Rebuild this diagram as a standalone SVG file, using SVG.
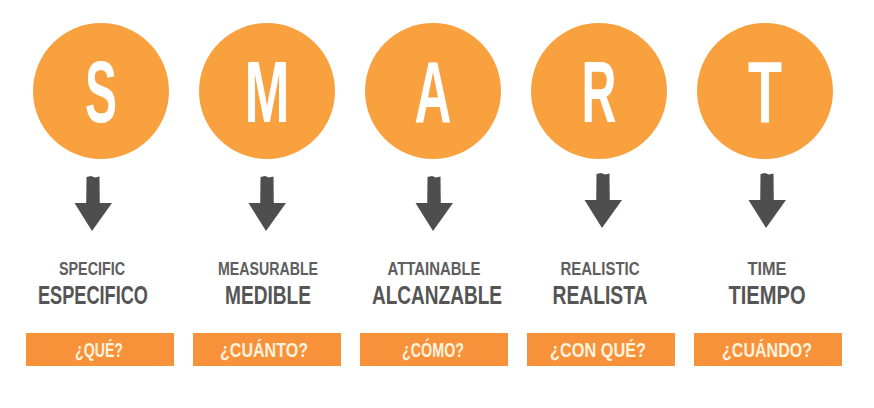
<svg xmlns="http://www.w3.org/2000/svg" width="874" height="408" viewBox="0 0 874 408">
  <style>
    .circ { fill: #F9A13F; }
    .big { font-family: "Liberation Sans", Arial, sans-serif; font-weight: bold; font-size: 87px; fill: #FFFFFF; text-anchor: middle; }
    .en { font-family: "Liberation Sans", Arial, sans-serif; font-weight: bold; font-size: 18px; fill: #5E5E5E; text-anchor: middle; }
    .es { font-family: "Liberation Sans", Arial, sans-serif; font-weight: bold; font-size: 26px; fill: #555555; text-anchor: middle; }
    .box { fill: #F7913A; }
    .q { font-family: "Liberation Sans", Arial, sans-serif; font-weight: bold; font-size: 19.5px; fill: #FFF3DF; text-anchor: middle; }
    .arr { fill: #4E4E4E; }
  </style>
  <defs>
    <g id="arrow">
      <path class="arr" d="M -6.5 0 L -2 -1 L 2 0.5 L 6.5 -0.5 L 6.8 28 L -6.8 28 Z"/>
      <path class="arr" d="M -18.5 26 L 19 26 L -1 54 Z"/>
    </g>
  </defs>
  <rect width="874" height="408" fill="#FFFFFF"/>

  <g id="connectors">
    <use href="#arrow" x="93" y="177"/>
    <use href="#arrow" x="267" y="177"/>
    <use href="#arrow" x="434" y="177"/>
    <use href="#arrow" x="603" y="174"/>
    <use href="#arrow" x="767" y="174"/>
  </g>

  <g id="node-s">
    <circle class="circ" cx="101" cy="91" r="68"/>
    <text class="big" x="101" y="122" textLength="32" lengthAdjust="spacingAndGlyphs">S</text>
    <text class="en" x="92" y="275" textLength="66" lengthAdjust="spacingAndGlyphs">SPECIFIC</text>
    <text class="es" x="93" y="304" textLength="110" lengthAdjust="spacingAndGlyphs">ESPECIFICO</text>
    <rect class="box" x="26" y="333" width="148" height="33"/>
    <text class="q" x="99" y="357" textLength="48" lengthAdjust="spacingAndGlyphs">¿QUÉ?</text>
  </g>

  <g id="node-m">
    <circle class="circ" cx="267" cy="91" r="68"/>
    <text class="big" x="267" y="122" textLength="45" lengthAdjust="spacingAndGlyphs">M</text>
    <text class="en" x="268" y="275" textLength="100" lengthAdjust="spacingAndGlyphs">MEASURABLE</text>
    <text class="es" x="268" y="304" textLength="86" lengthAdjust="spacingAndGlyphs">MEDIBLE</text>
    <rect class="box" x="193" y="333" width="148" height="33"/>
    <text class="q" x="264" y="357" textLength="88" lengthAdjust="spacingAndGlyphs">¿CUÁNTO?</text>
  </g>

  <g id="node-a">
    <circle class="circ" cx="433" cy="91" r="68"/>
    <text class="big" x="433" y="122" textLength="37" lengthAdjust="spacingAndGlyphs">A</text>
    <text class="en" x="434" y="275" textLength="93" lengthAdjust="spacingAndGlyphs">ATTAINABLE</text>
    <text class="es" x="437" y="304" textLength="130" lengthAdjust="spacingAndGlyphs">ALCANZABLE</text>
    <rect class="box" x="360" y="333" width="148" height="33"/>
    <text class="q" x="433" y="357" textLength="62" lengthAdjust="spacingAndGlyphs">¿CÓMO?</text>
  </g>

  <g id="node-r">
    <circle class="circ" cx="599" cy="91" r="68"/>
    <text class="big" x="599" y="122" textLength="35" lengthAdjust="spacingAndGlyphs">R</text>
    <text class="en" x="600" y="275" textLength="79" lengthAdjust="spacingAndGlyphs">REALISTIC</text>
    <text class="es" x="600" y="304" textLength="95" lengthAdjust="spacingAndGlyphs">REALISTA</text>
    <rect class="box" x="527" y="333" width="148" height="33"/>
    <text class="q" x="598" y="357" textLength="96" lengthAdjust="spacingAndGlyphs">¿CON QUÉ?</text>
  </g>

  <g id="node-t">
    <circle class="circ" cx="765" cy="91" r="68"/>
    <text class="big" x="765" y="122" textLength="34" lengthAdjust="spacingAndGlyphs">T</text>
    <text class="en" x="767" y="275" textLength="39" lengthAdjust="spacingAndGlyphs">TIME</text>
    <text class="es" x="767" y="304" textLength="77" lengthAdjust="spacingAndGlyphs">TIEMPO</text>
    <rect class="box" x="694" y="333" width="148" height="33"/>
    <text class="q" x="767" y="357" textLength="90" lengthAdjust="spacingAndGlyphs">¿CUÁNDO?</text>
  </g>
</svg>
